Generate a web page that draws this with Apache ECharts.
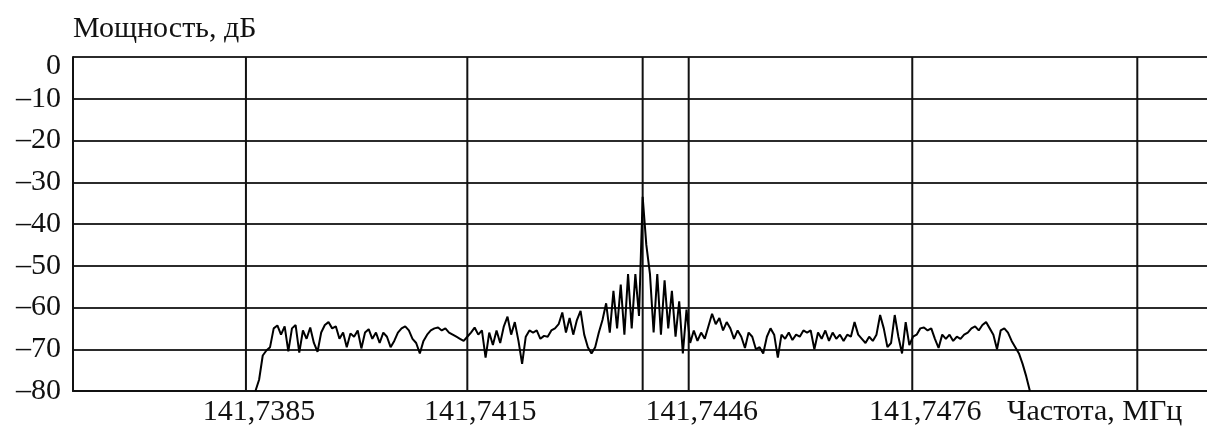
<!DOCTYPE html>
<html>
<head>
<meta charset="utf-8">
<script src="https://cdn.jsdelivr.net/npm/echarts@6/dist/echarts.min.js"></script>
<style>
  html, body { margin: 0; padding: 0; background: #fff; }
  #chart { width: 1207px; height: 429px; }
</style>
</head>
<body>
<div id="chart"></div>
<script>
// Spectrum trace: uniformly sampled, first sample frequency and step in MHz
const traceStartMHz = 141.73863;
const traceStepMHz = 0.00005;
// Power level of each sample, dB
const levelsDb = [
  -80, -77.3, -71.5, -70.3, -69.5, -65, -64.3, -66.5, -64.5, -70.5,
  -65, -64.2, -70.8, -65.5, -67.5, -64.8, -68.5, -70.6, -66, -64.2,
  -63.5, -65, -64.5, -67.5, -66, -69.5, -66.2, -67, -65.5, -69.8,
  -66, -65.2, -67.5, -66, -68.5, -66, -67, -69.5, -68, -66,
  -65, -64.5, -65.5, -67.5, -68.5, -71, -68, -66.5, -65.5, -65,
  -64.8, -65.5, -65, -66, -66.5, -67, -67.5, -68, -67, -66,
  -64.8, -66.5, -65.5, -72, -66, -69, -65.5, -68.5, -64.5, -62.2,
  -66.5, -63.5, -68, -73.5, -67, -65.5, -66, -65.5, -67.5, -66.8,
  -67, -65.5, -65, -64, -61.2, -66, -62.5, -66.5, -63, -60.8,
  -66.5, -69.5, -71, -69.5, -66, -63, -59, -66, -56, -65,
  -54.5, -66.5, -52, -65, -52, -62, -33.5, -45, -52, -66,
  -52, -66.5, -53.5, -65, -56, -67, -58.5, -71, -60.5, -68.5,
  -65.5, -68, -66, -67.5, -64.5, -61.5, -64, -62.5, -65.5, -63.5,
  -65, -67.5, -65.5, -67, -69.7, -66, -67, -70, -69.5, -71,
  -67, -65, -66.5, -72, -66.5, -67.5, -66, -67.8, -66.5, -67,
  -65.5, -66, -65.5, -70, -66, -67.5, -65.5, -68, -66, -67.5,
  -66.5, -68, -66.5, -67, -63.5, -66.5, -67.5, -68.5, -67, -68,
  -66.5, -61.8, -65, -69.5, -68.5, -61.8, -67, -71, -63.5, -69,
  -67, -66.5, -65, -64.8, -65.5, -65, -67.5, -69.7, -66.5, -67.5,
  -66.5, -68, -67, -67.5, -66.5, -66, -65, -64.5, -65.5, -64.2,
  -63.5, -65, -66.5, -70, -65.5, -65, -66, -68, -69.5, -71,
  -73.5, -76.5, -80
];

// Frequency axis: visible range, grid line positions and labelled ticks (MHz)
const freqMin = 141.736133;
const freqMax = 141.751654;
const gridFreqs = [141.7385, 141.74153, 141.74393, 141.74456, 141.74762, 141.7507];
const tickFreqs = [141.7385, 141.74153, 141.74456, 141.74762];
const tickLabels = ['141,7385', '141,7415', '141,7446', '141,7476'];

// Power axis
const powerMin = -80;
const powerMax = 0;
const powerStep = 10;

const yTitle = 'Мощность, дБ';
const xTitle = 'Частота, МГц';

const serif = "'Liberation Serif', 'Times New Roman', serif";

const traceData = levelsDb.map((v, i) => [traceStartMHz + i * traceStepMHz, v]);

// Vertical grid lines, each a two-point line across the full power range
const gridSeries = gridFreqs.map(f => ({
  type: 'line',
  data: [[f, powerMin], [f, powerMax]],
  symbol: 'none',
  silent: true,
  lineStyle: { color: '#111', width: 2 },
  z: 2
}));

const chart = echarts.init(document.getElementById('chart'), null, { renderer: 'canvas' });
chart.setOption({
  animation: false,
  backgroundColor: '#ffffff',
  title: [
    { text: yTitle, left: 73, top: 14, padding: 0,
      textStyle: { fontFamily: serif, fontSize: 30, fontWeight: 'normal', color: '#111' } },
    { text: xTitle, left: 1007, top: 397, padding: 0,
      textStyle: { fontFamily: serif, fontSize: 30, fontWeight: 'normal', color: '#111' } }
  ],
  grid: { left: 73, right: 0, top: 57, bottom: 38, containLabel: false },
  xAxis: {
    type: 'value',
    min: freqMin,
    max: freqMax,
    splitLine: { show: false },
    axisTick: { show: false },
    axisLine: { show: true, onZero: false, lineStyle: { color: '#111', width: 2 } },
    axisLabel: {
      customValues: tickFreqs,
      formatter: (v) => {
        const k = tickFreqs.findIndex(f => Math.abs(f - v) < 1e-7);
        return k >= 0 ? tickLabels[k] : '';
      },
      margin: 6,
      padding: [0, 0, 0, 26],
      fontFamily: serif,
      fontSize: 30,
      color: '#111'
    }
  },
  yAxis: {
    type: 'value',
    min: powerMin,
    max: powerMax,
    interval: powerStep,
    axisTick: { show: false },
    axisLine: { show: true, lineStyle: { color: '#111', width: 2 } },
    splitLine: { show: true, lineStyle: { color: '#2b2b2b', width: 2 } },
    axisLabel: {
      margin: 12,
      fontFamily: serif,
      fontSize: 30,
      color: '#111',
      formatter: (v) => v === 0 ? '{top|0}' : String(v).replace('-', '\u2013'),
      rich: {
        top: { fontFamily: serif, fontSize: 30, color: '#111', padding: [18, 0, 0, 0] }
      }
    }
  },
  series: gridSeries.concat([{
    type: 'line',
    data: traceData,
    showSymbol: false,
    symbol: 'none',
    lineStyle: { color: '#000', width: 2 },
    z: 3
  }])
});
</script>
</body>
</html>
